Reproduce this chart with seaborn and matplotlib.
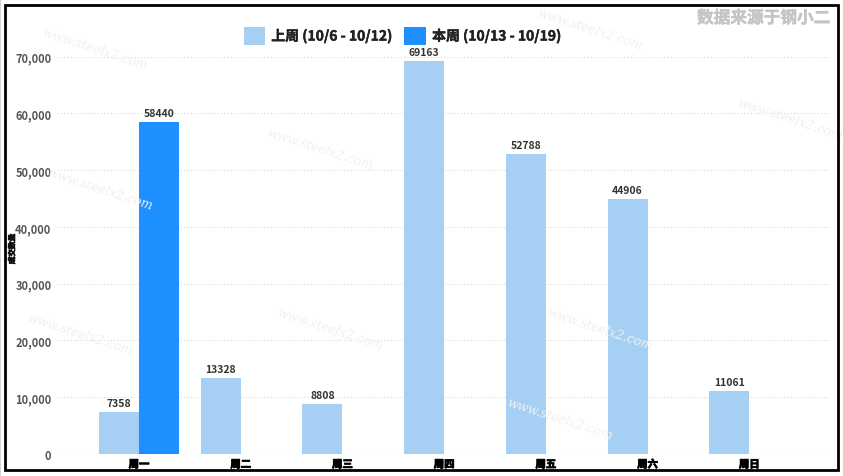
import numpy as np
import pandas as pd
import matplotlib
matplotlib.use("Agg")
import matplotlib.pyplot as plt
import matplotlib.patheffects as pe
import seaborn as sns
from matplotlib.patches import Rectangle

days = ["周一", "周二", "周三", "周四", "周五", "周六", "周日"]
last_week = [7358, 13328, 8808, 69163, 52788, 44906, 11061]
this_week = [58440, np.nan, np.nan, np.nan, np.nan, np.nan, np.nan]
series_names = ["上周 (10/6 - 10/12)", "本周 (10/13 - 10/19)"]
yticks = [0, 10000, 20000, 30000, 40000, 50000, 60000, 70000]
y_label = "成交数量"
source_note = "数据来源于钢小二"

df = pd.DataFrame({
    "day": days * 2,
    "week": [series_names[0]] * 7 + [series_names[1]] * 7,
    "value": last_week + this_week,
})

sns.set_theme(style="white")
plt.rcParams['font.family'] = ['Noto Sans CJK SC', 'DejaVu Sans']

W, H = 843, 477
fig = plt.figure(figsize=(W / 100, H / 100), dpi=100)
ax = fig.add_axes([57 / W, 1 - 455 / H, (830 - 57) / W, (455 - 57.5) / H])

colors = ["#A5D0F4", "#1E8FFF"]
sns.barplot(data=df, x="day", y="value", hue="week", order=days,
            hue_order=series_names, palette=colors, width=0.787,
            linewidth=0, saturation=1, ax=ax, legend=True)

ax.set_ylim(0, 70000)
ax.set_xlim(-0.806, 6.794)
ax.set_yticks(yticks)
ax.set_yticklabels([f"{v:,}" for v in yticks], fontsize=8, fontweight="bold", color="#555555")
ax.set_xticks(range(len(days)))
ax.set_xticklabels(days, fontsize=7.5, fontweight="heavy", color="#000000")
bold_fx = [pe.withStroke(linewidth=0.6, foreground="#000000")]
for t in ax.get_xticklabels():
    t.set_path_effects(bold_fx)
ax.tick_params(axis="both", length=0, pad=4)
ax.set_xlabel("")
ax.set_ylabel("")
for s in ax.spines.values():
    s.set_visible(False)
ax.yaxis.grid(True, linestyle=(0, (1, 2)), color="#D8D8D8", linewidth=0.8)
ax.xaxis.grid(False)
ax.set_axisbelow(True)

for cont in ax.containers:
    ax.bar_label(cont, fmt="%d", padding=3, fontsize=7.5, fontweight="bold", color="#333333")

leg = ax.legend(loc="center", bbox_to_anchor=(402 / W, 1 - 37 / H), bbox_transform=fig.transFigure,
                ncol=2, frameon=False, fontsize=10, handlelength=1.55, handleheight=1.55,
                columnspacing=0.9, handletextpad=0.45)
for t in leg.get_texts():
    t.set_fontweight("bold")
    t.set_color("#222222")
    t.set_path_effects([pe.withStroke(linewidth=0.35, foreground="#222222")])

fig.text(12 / W, 1 - 250 / H, y_label, rotation=90, ha="center", va="center",
         fontsize=5.5, fontweight="bold", color="#111111",
         path_effects=[pe.withStroke(linewidth=0.5, foreground="#111111")])
fig.text(830 / W, 1 - 19 / H, source_note, ha="right", va="center",
         fontsize=12, fontweight="bold", color="#C4C4C4",
         path_effects=[pe.withStroke(linewidth=0.3, foreground="#C4C4C4")])

# watermark text
for (x, y) in [(95, 50), (320, 150), (590, 30), (100, 190), (330, 330), (600, 330),
               (80, 335), (790, 120), (560, 420)]:
    fig.text(x / W, 1 - y / H, "www.steelx2.com", rotation=-18, ha="center", va="center",
             fontsize=9, color="#F0F0F0", family="DejaVu Serif", style="italic", zorder=0)

fig.patches.append(Rectangle((5 / W, 1 - 470.5 / H), (838 - 5) / W, (470.5 - 5.5) / H,
                             transform=fig.transFigure, fill=False, edgecolor="black",
                             linewidth=2, zorder=10))
fig.patches.append(Rectangle((0.3 / W, 0.3 / H), (W - 0.6) / W, (H - 0.6) / H,
                             transform=fig.transFigure, fill=False, edgecolor="#CCCCCC",
                             linewidth=0.6, zorder=10))

fig.savefig("out.png", dpi=100)
